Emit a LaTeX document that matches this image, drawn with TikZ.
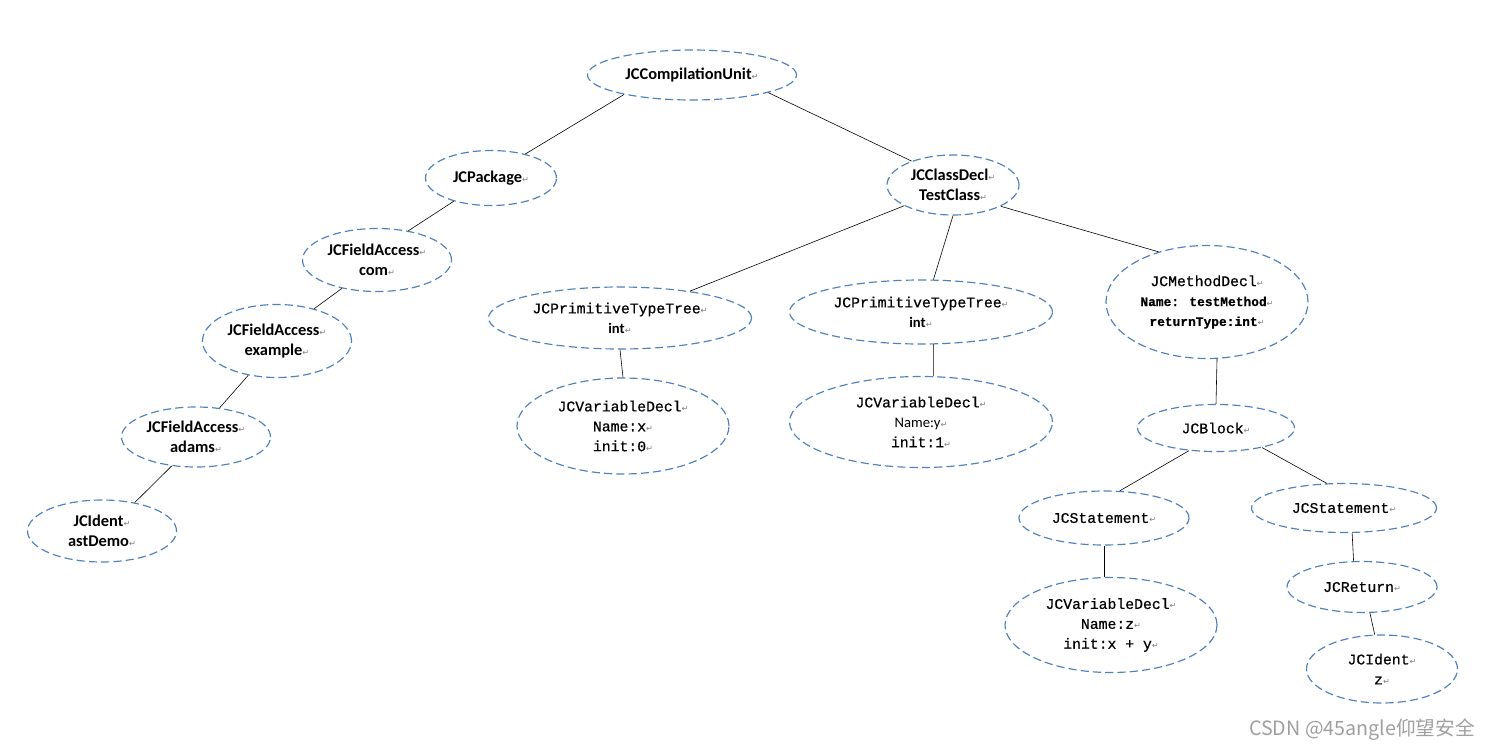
\documentclass[tikz,border=0pt]{standalone}
\usepackage{fontspec}
\setmainfont{Carlito}
\newfontfamily\monofont[FakeBold=0.6]{Liberation Mono}
\newfontfamily\markfont{DejaVu Sans}
\newfontfamily\cjkfont{Noto Sans CJK SC}
\usetikzlibrary{shapes.geometric}
\definecolor{astblue}{RGB}{79,129,189}
\newcommand{\rt}{{\markfont\fontsize{7}{7}\selectfont\color{gray}↵}}
\newcommand{\sn}[1]{{\bfseries\fontsize{14}{17}\selectfont #1}}
\newcommand{\mn}[1]{{\monofont\fontsize{12.6}{17}\selectfont #1}}
\newcommand{\mb}[1]{{\monofont\bfseries\fontsize{11}{17}\selectfont #1}}
\tikzset{
astnode/.style={ellipse, draw=astblue, dash pattern=on 7pt off 3.5pt, line width=1pt,
	inner sep=0pt, align=center, font=\fontsize{12.5}{17}\selectfont},
esize/.style 2 args={minimum width={#1*0.03cm}, minimum height={#2*0.03cm}},
link/.style={line width=0.5pt}
}

\begin{document}
\begin{tikzpicture}[x=0.03cm, y=-0.03cm]
	\useasboundingbox (0,0) rectangle (1488,750);
	\node[astnode, esize={209}{50}] (cu) at (692,75) {\sn{JCCompilationUnit}\rt};
	\node[astnode, esize={131}{55}] (pkg) at (491,178) {\sn{JCPackage}\rt};
	\node[astnode, esize={132}{60}] (cd) at (953,185) {\sn{JCClassDecl}\rt\\\sn{TestClass}\rt};
	\node[astnode, esize={149}{63}] (com) at (377,260) {\sn{JCFieldAccess}\rt\\\sn{com}\rt};
	\node[astnode, esize={149}{73}] (ex) at (277,341) {\sn{JCFieldAccess}\rt\\\sn{example}\rt};
	\node[astnode, esize={149}{60}] (ad) at (196,437) {\sn{JCFieldAccess}\rt\\\sn{adams}\rt};
	\node[astnode, esize={149}{62}] (ast) at (102,531) {\sn{JCIdent}\rt\\\sn{astDemo}\rt};
	\node[astnode, esize={263}{62}] (ptl) at (620,318) {\mn{JCPrimitiveTypeTree}\rt\\\textbf{int}\rt};
	\node[astnode, esize={263}{64}] (ptm) at (921,312) {\mn{JCPrimitiveTypeTree}\rt\\\textbf{int}\rt};
	\node[astnode, esize={202}{113}] (md) at (1207,302) {\mn{JCMethodDecl}\rt\\\mb{Name: testMethod}\rt\\\mb{returnType:int}\rt};
	\node[astnode, esize={212}{96}] (vx) at (623,426) {\mn{JCVariableDecl}\rt\\\mn{Name:x}\rt\\\mn{init:0}\rt};
	\node[astnode, esize={263}{91}] (vy) at (921,422) {\mn{JCVariableDecl}\rt\\{\fontsize{12.5}{17}\selectfont Name:y}\rt\\\mn{init:1}\rt};
	\node[astnode, esize={157}{47}] (blk) at (1216,428) {\mn{JCBlock}\rt};
	\node[astnode, esize={170}{54}] (sl) at (1104,518) {\mn{JCStatement}\rt};
	\node[astnode, esize={185}{49}] (sr) at (1344,508) {\mn{JCStatement}\rt};
	\node[astnode, esize={212}{95}] (vz) at (1111,625) {\mn{JCVariableDecl}\rt\\\mn{Name:z}\rt\\\mn{init:x + y}\rt};
	\node[astnode, esize={150}{51}] (ret) at (1362,587) {\mn{JCReturn}\rt};
	\node[astnode, esize={151}{68}] (idz) at (1382,669) {\mn{JCIdent}\rt\\\mn{z}\rt};
	\draw[link] (cu.196) -- (pkg.35);
	\draw[link] (cu.347) -- (cd.150);
	\draw[link] (pkg.212) -- (com.43);
	\draw[link] (com.219) -- (ex.41);
	\draw[link] (ex.230) -- (ad.51);
	\draw[link] (ad.230) -- (ast.41);
	\draw[link] (cd.203) -- (ptl.21);
	\draw[link] (cd.270) -- (ptm.69);
	\draw[link] (cd.336) -- (md.134);
	\draw[link] (ptl.south) -- (vx.north);
	\draw[link] (ptm.291) -- (vy.75);
	\draw[link] (md.280) -- (blk.north);
	\draw[link] (blk.220) -- (sl.60);
	\draw[link] (blk.337) -- (sr.125);
	\draw[link] (sl.south) -- (sl.south |- vz.north);
	\draw[link] (sr.288) -- (ret.108);
	\draw[link] (ret.287) -- (idz.102);
	\node[text=gray!75, font=\cjkfont\fontsize{16.8}{17}\selectfont] (mark) at (1362,730) {CSDN @45angle仰望安全};
\end{tikzpicture}
\end{document}
